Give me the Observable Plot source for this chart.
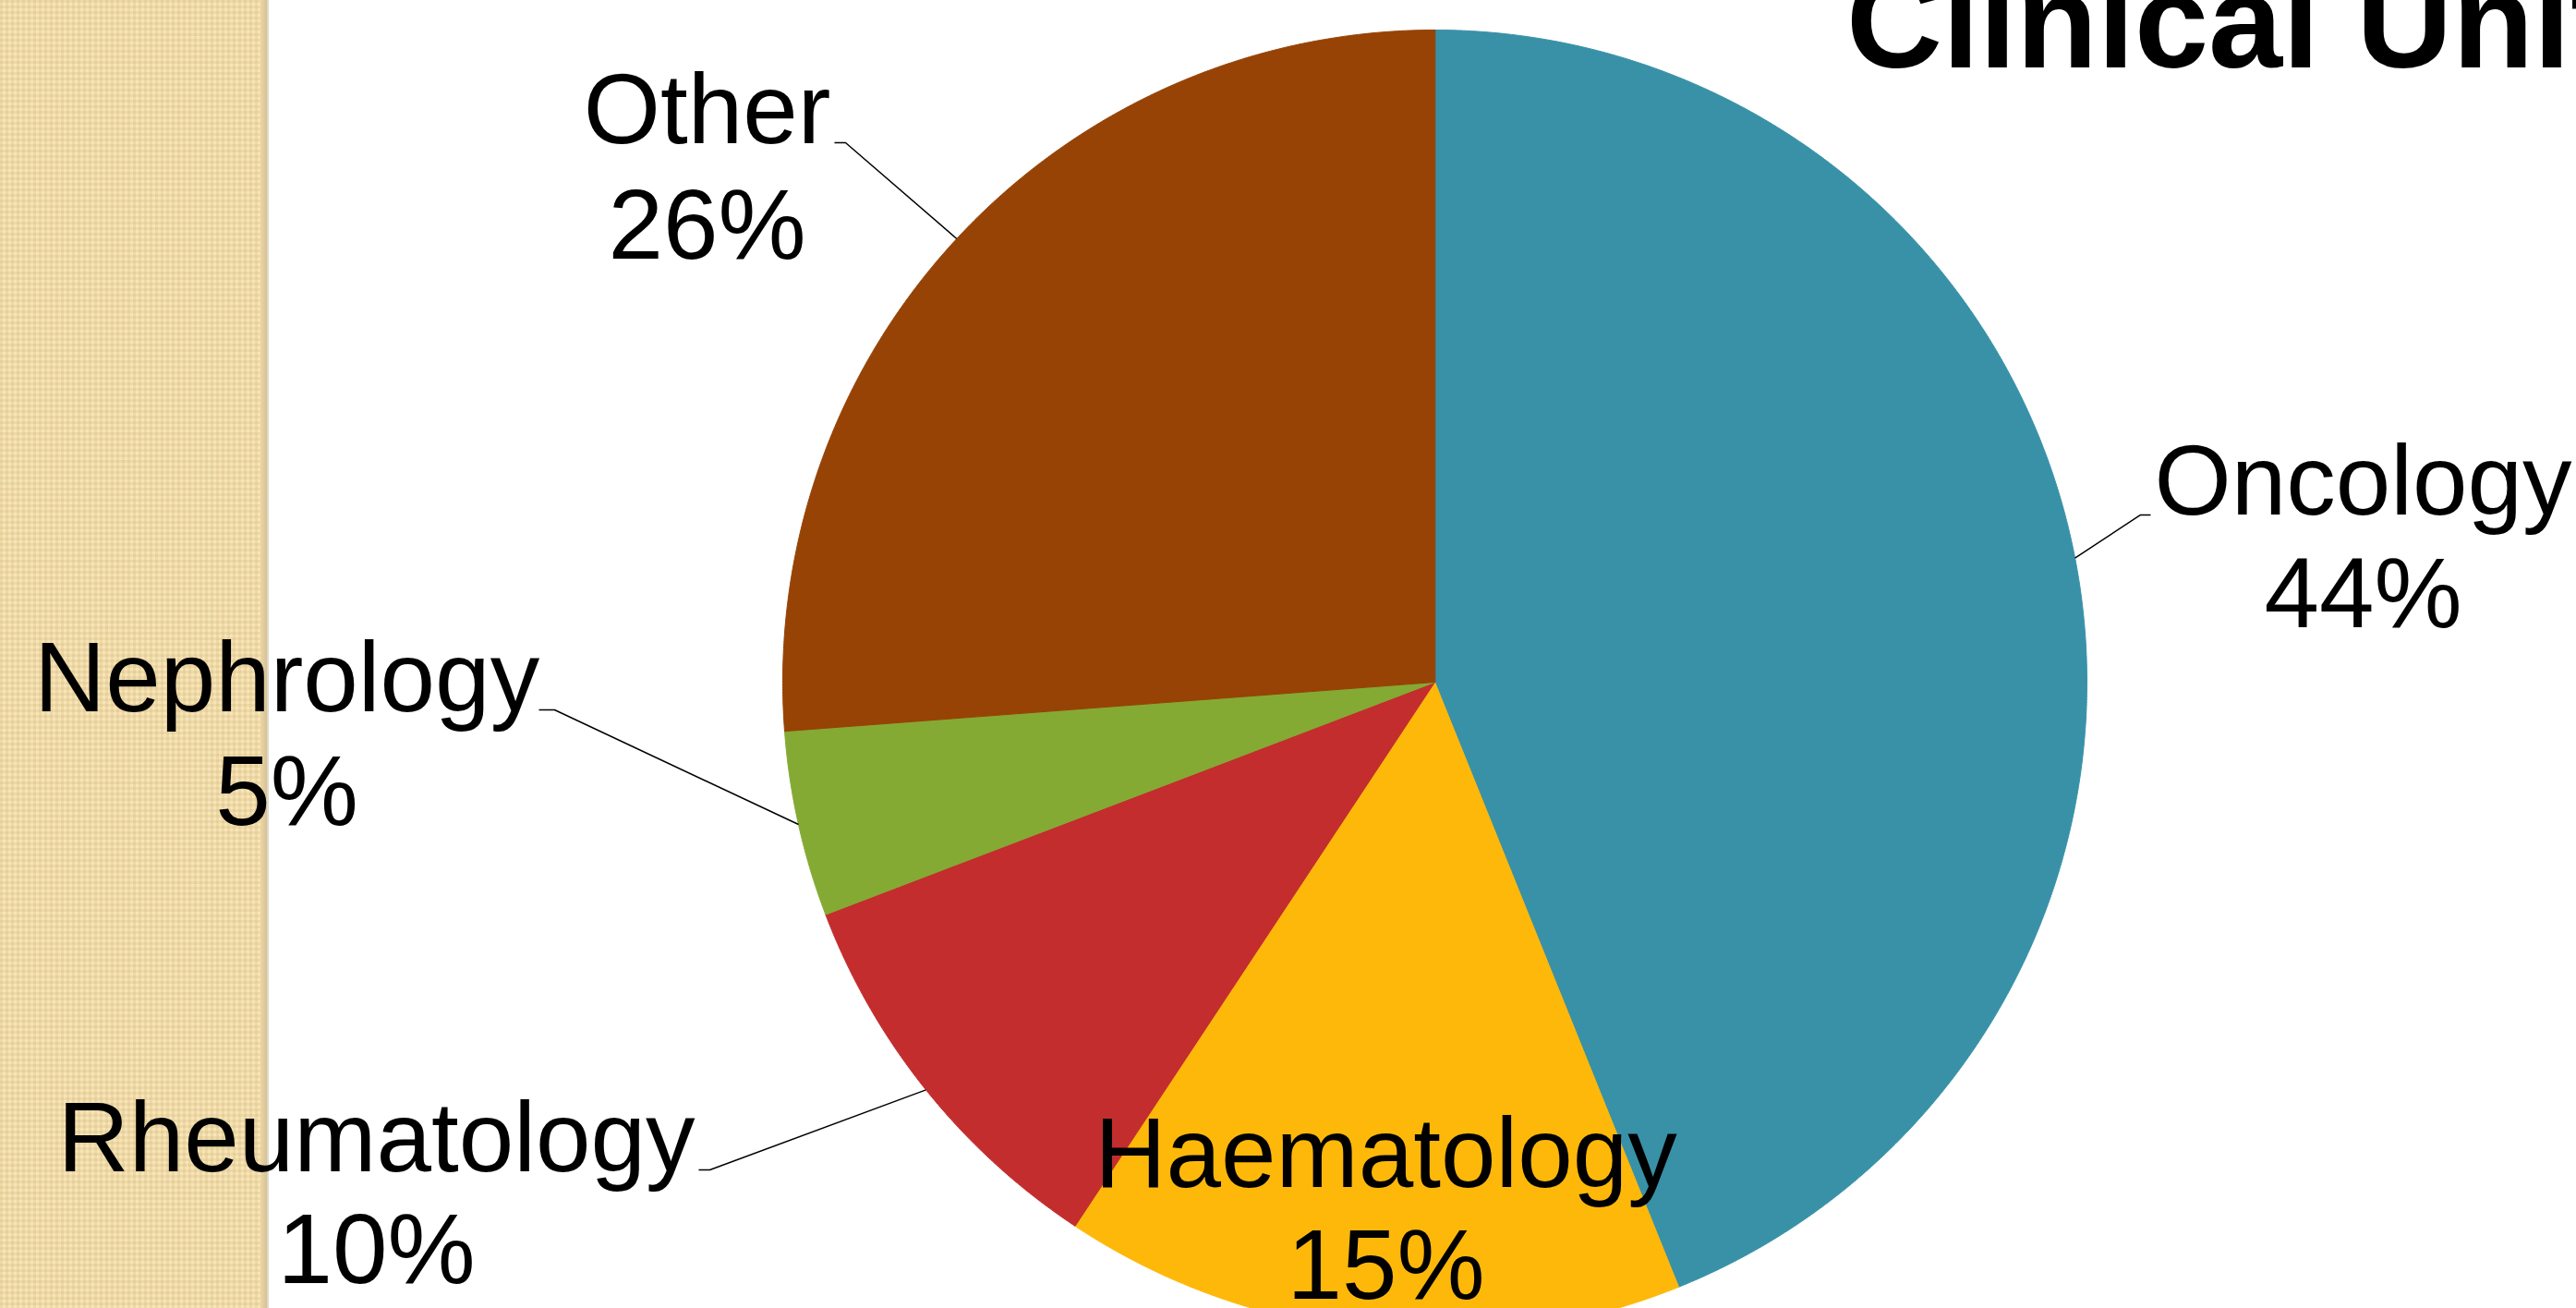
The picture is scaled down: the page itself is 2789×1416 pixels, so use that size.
<!DOCTYPE html>
<html>
<head>
<meta charset="utf-8">
<script src="https://cdn.jsdelivr.net/npm/d3@7"></script>
<script src="https://cdn.jsdelivr.net/npm/@observablehq/plot@0.6"></script>
<style>
  html, body { margin: 0; padding: 0; width: 2789px; height: 1416px; overflow: hidden; background: #ffffff; }
  #strip { position: absolute; left: 0; top: 0; width: 282px; height: 1416px; background-color: #f7e5b7;
    background-image:
      linear-gradient(90deg, rgba(200,168,105,0.20) 3px, transparent 3px),
      linear-gradient(rgba(200,168,105,0.20) 3px, transparent 3px);
    background-size: 6px 6px; }
  #strip-shadow { position: absolute; left: 282px; top: 0; width: 7px; height: 1416px;
    background: linear-gradient(90deg, #ead6a6, #d9c291); }
  #strip-line { position: absolute; left: 289px; top: 0; width: 2px; height: 1416px; background: #ddd9cf; }
  #chart { position: absolute; left: 0; top: 0; }
  #title { position: absolute; left: 1999px; top: -48px; font: bold 144px "Liberation Sans", Arial, sans-serif;
    line-height: 144px; white-space: nowrap; color: #000; }
</style>
</head>
<body>
<div id="strip"></div>
<div id="strip-shadow"></div>
<div id="strip-line"></div>
<div id="chart"></div>
<div id="title">Clinical Units</div>
<script>
// ---- data ----
const categories = ["Oncology", "Haematology", "Rheumatology", "Nephrology", "Other"];
const shares = [43.9, 15.4, 9.9, 4.6, 26.2];
const colors = ["#3891A7", "#FEB80A", "#C32D2E", "#84AA33", "#964305"];

// ---- layout (in pie-radius units, centre = 0,0) ----
const labelX = [1.4235, -0.0751, -1.6232, -1.7606, -1.1161];
const nameY = [0.2564, -0.7734, -0.7507, -0.0453, 0.8258];
const pctY = [0.0836, -0.9448, -0.9207, -0.2195, 0.6501];
const leaderElbow = [[1.0822, 0.2564], null, [-1.1119, -0.7479], [-1.3499, -0.0425], [-0.9037, 0.8272]];
const leaderEnd = [[1.0977, 0.2564], null, [-1.1289, -0.7479], [-1.3739, -0.0425], [-0.9207, 0.8272]];

const W = 2789, H = 1416, cx = 1553, cy = 738, R = 706;

const total = d3.sum(shares);
let acc = 0;
const slices = categories.map((c, i) => {
  const a0 = acc / total * 2 * Math.PI;
  acc += shares[i];
  const a1 = acc / total * 2 * Math.PI;
  return {category: c, share: shares[i], pct: Math.round(shares[i] / total * 100), a0, a1, mid: (a0 + a1) / 2, i};
});

const piePoints = slices.flatMap(s => {
  const n = Math.max(2, Math.ceil((s.a1 - s.a0) / (Math.PI / 720)));
  const pts = [{category: s.category, x: 0, y: 0}];
  for (let k = 0; k <= n; k++) {
    const a = s.a0 + (s.a1 - s.a0) * k / n;
    pts.push({category: s.category, x: Math.sin(a), y: Math.cos(a)});
  }
  return pts;
});

const leaderPoints = slices.filter(s => leaderElbow[s.i]).flatMap(s => [
  {category: s.category, x: Math.sin(s.mid), y: Math.cos(s.mid)},
  {category: s.category, x: leaderElbow[s.i][0], y: leaderElbow[s.i][1]},
  {category: s.category, x: leaderEnd[s.i][0], y: leaderEnd[s.i][1]}
]);

const labels = slices.map(s => ({category: s.category, pct: s.pct, x: labelX[s.i], ny: nameY[s.i], py: pctY[s.i]}));

const font = "Liberation Sans, Arial, sans-serif";

const plot = Plot.plot({
  width: W,
  height: H,
  margin: 0,
  x: {domain: [-cx / R, (W - cx) / R], axis: null},
  y: {domain: [-(H - cy) / R, cy / R], axis: null},
  color: {domain: categories, range: colors},
  style: {background: "transparent", maxWidth: "none", overflow: "hidden"},
  marks: [
    Plot.line(piePoints, {x: "x", y: "y", z: "category", fill: "category", stroke: "category", strokeWidth: 1, curve: "linear-closed"}),
    Plot.line(leaderPoints, {x: "x", y: "y", z: "category", stroke: "#000000", strokeWidth: 1.5, strokeLinecap: "butt", strokeLinejoin: "miter"}),
    Plot.text(labels, {x: "x", y: "ny", text: "category", fontSize: 107, fontFamily: font, lineAnchor: "bottom", textAnchor: "middle", fill: "#000000"}),
    Plot.text(labels, {x: "x", y: "py", text: d => `${d.pct}%`, fontSize: 107, fontFamily: font, lineAnchor: "bottom", textAnchor: "middle", fill: "#000000"})
  ]
});

document.getElementById("chart").appendChild(plot);
</script>
</body>
</html>
